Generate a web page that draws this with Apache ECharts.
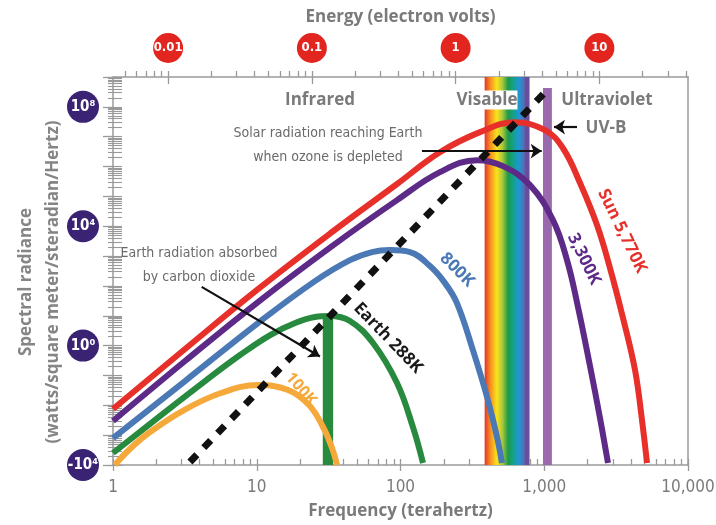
<!DOCTYPE html>
<html>
<head>
<meta charset="utf-8">
<script src="https://cdn.jsdelivr.net/npm/echarts@6/dist/echarts.min.js"></script>
<style>
  html, body { margin: 0; padding: 0; background: #fff; }
  #chart { width: 716px; height: 525px; }
</style>
</head>
<body>
<div id="chart"></div>
<script>
// frequency in terahertz, spectral radiance
var sunFreq = [1, 3.17, 10.2, 33.4, 94.6, 188, 357, 626, 1012, 1350, 1774, 2328, 2867, 3530, 4280, 4786, 5186];
var sunVal = [7.5e-3, 0.77, 78, 6.4e3, 2.6e5, 3.0e6, 1.42e7, 3.07e7, 1.66e7, 4.1e6, 2.8e5, 1.09e4, 395, 8.4, 0.152, 3.2e-3, 1.17e-4];

var k3300Freq = [1, 3.17, 10.2, 33.4, 94.6, 188, 341, 516, 796, 1150, 1440, 1717, 2081, 2442, 2776];
var k3300Val = [2.98e-3, 0.304, 28.8, 2160, 7.5e4, 6.5e5, 1.64e6, 1.03e6, 2.38e5, 1.6e4, 733, 19.5, 0.207, 3.75e-3, 1.17e-4];

var k800Freq = [1, 3.17, 10.2, 25.4, 44.5, 63.4, 84.5, 116.4, 160.4, 204, 247, 319, 400, 469, 508];
var k800Val = [8.0e-4, 0.065, 5.7, 145, 733, 1360, 1585, 1360, 461, 124, 26.6, 0.71, 0.0189, 8.7e-4, 1.17e-4];

var earthFreq = [1, 2.12, 4.37, 7.65, 12.4, 18.5, 25.4, 32.3, 44.5, 64.4, 94.6, 122, 143.4];
var earthVal = [2.52e-4, 4.37e-3, 0.065, 0.483, 2.26, 5.7, 9.06, 9.77, 6.65, 1.22, 0.0557, 1.87e-3, 1.17e-4];

var k100Freq = [1.03, 1.31, 1.81, 3.12, 5.64, 10.2, 16.5, 23.1, 28.9, 33.4, 36.2];
var k100Val = [1e-4, 3.44e-4, 1.27e-3, 6.95e-3, 0.0258, 0.0477, 0.0325, 0.0102, 1.87e-3, 3.7e-4, 1e-4];

// peak line (dashed) end points
var wienFreq = [3.43, 1045];
var wienVal = [1.26e-4, 3.6e8];

// bands
var visibleBand = [385, 790];
var uvbBand = [980, 1130];
var uvbTop = 4.3e8;
var co2Band = [28.8, 34];
var co2Top = 9;

// arrows [x0, y0, x1, y1]
var ozoneArrow = [141, 3.3e6, 960, 3.3e6];
var uvbArrow = [1690, 2.1e7, 1169, 2.1e7];
var co2Arrow = [4.14, 93, 27.5, 0.43];

// axes
var THZ_PER_EV = 241.8;
var freqMin = 1, freqMax = 10000;
var radMin = 1e-4, radMax = 1e9;
var freqDecades = [1, 10, 100, 1000, 10000];
var freqLabels = ['1', '10', '100', '1,000', '10,000'];
var energyTicks = [0.01, 0.1, 1, 10];
var radianceLabelValues = [1e-4, 1, 1e4, 1e8];
var radianceLabelText = { '-4': '-10⁴', '0': '10⁰', '4': '10⁴', '8': '10⁸' };

function zip(xs, ys) {
  return xs.map(function (x, i) { return [x, ys[i]]; });
}

// 1..9 x 10^k values inside [lo, hi]
function logTicks(lo, hi) {
  var out = [];
  for (var e = Math.floor(Math.log10(lo)); e <= Math.ceil(Math.log10(hi)); e++) {
    for (var m = 1; m < 10; m++) {
      var v = m * Math.pow(10, e);
      if (v >= lo * 0.9999 && v <= hi * 1.0001) out.push(v);
    }
  }
  return out;
}
function decades(lo, hi) {
  var out = [];
  for (var e = Math.round(Math.log10(lo)); e <= Math.round(Math.log10(hi)); e++) out.push(Math.pow(10, e));
  return out;
}

var axisGray = '#9a9a9a';
var textGray = '#7a7a7a';
var narrow = '"Liberation Sans Narrow", "DejaVu Sans Condensed", sans-serif';
var heavy = '"Open Sans", "DejaVu Sans", sans-serif';
var eMin = freqMin / THZ_PER_EV, eMax = freqMax / THZ_PER_EV;

function curve(name, color, xs, ys) {
  return {
    name: name, type: 'line', z: 3, smooth: 0.4, symbol: 'none', silent: true,
    data: zip(xs, ys),
    lineStyle: { color: color, width: 6 }
  };
}

function arrow(a) {
  return [{ coord: [a[0], a[1]] }, { coord: [a[2], a[3]] }];
}

var myChart = echarts.init(document.getElementById('chart'), null, { renderer: 'canvas' });

var option = {
  animation: false,
  backgroundColor: '#fff',
  grid: { left: 113, right: 28, top: 77, bottom: 60, containLabel: false, outerBoundsMode: 'none' },
  xAxis: [
    {
      type: 'log', min: freqMin, max: freqMax, position: 'bottom',
      axisLine: { show: true, onZero: false, lineStyle: { color: axisGray, width: 1.5 } },
      axisTick: { show: true, inside: false, length: 6, customValues: freqDecades, lineStyle: { color: axisGray, width: 1.3 } },
      axisLabel: {
        customValues: freqDecades, margin: 14, color: textGray, fontSize: 17, fontFamily: narrow,
        formatter: function (v) { return freqLabels[Math.round(Math.log10(v))]; }
      },
      splitLine: { show: false },
      name: 'Frequency (terahertz)', nameLocation: 'middle', nameGap: 38,
      nameTextStyle: { color: textGray, fontSize: 17, fontWeight: 'bold', fontFamily: heavy }
    },
    {
      type: 'log', min: freqMin, max: freqMax, position: 'bottom',
      axisLine: { show: false, onZero: false },
      axisTick: { show: true, inside: true, length: 6, customValues: logTicks(freqMin, freqMax), lineStyle: { color: axisGray, width: 1.3 } },
      axisLabel: { show: false }, splitLine: { show: false }
    },
    {
      type: 'log', min: eMin, max: eMax, position: 'top',
      axisLine: { show: true, onZero: false, lineStyle: { color: axisGray, width: 1.5 } },
      axisTick: { show: true, inside: false, length: 6, customValues: logTicks(eMin, eMax), lineStyle: { color: axisGray, width: 1.3 } },
      axisLabel: {
        customValues: energyTicks, margin: 29, color: '#fff', fontSize: 13, fontWeight: 'bold', fontFamily: narrow,
        backgroundColor: '#e2261f', width: 30, height: 30, lineHeight: 30, borderRadius: 15,
        align: 'center', verticalAlign: 'middle',
        formatter: function (v) { return String(v); }
      },
      splitLine: { show: false },
      name: 'Energy (electron volts)', nameLocation: 'middle', nameGap: 51,
      nameTextStyle: { color: textGray, fontSize: 17, fontWeight: 'bold', fontFamily: heavy }
    },
    {
      type: 'log', min: eMin, max: eMax, position: 'top',
      axisLine: { show: false, onZero: false },
      axisTick: { show: true, inside: true, length: 7, customValues: energyTicks, lineStyle: { color: axisGray, width: 1.3 } },
      axisLabel: { show: false }, splitLine: { show: false }
    }
  ],
  yAxis: [
    {
      type: 'log', min: radMin, max: radMax, position: 'left',
      axisLine: { show: true, onZero: false, lineStyle: { color: axisGray, width: 1.5 } },
      axisTick: { show: true, inside: false, length: 10, customValues: decades(radMin, radMax), lineStyle: { color: axisGray, width: 1.3 } },
      axisLabel: {
        customValues: radianceLabelValues, margin: 30, color: '#fff', fontSize: 15, fontWeight: 'bold', fontFamily: narrow,
        backgroundColor: '#3a2373', width: 32, height: 32, lineHeight: 32, borderRadius: 16,
        align: 'center', verticalAlign: 'middle',
        formatter: function (v) { return radianceLabelText[Math.round(Math.log10(v))]; }
      },
      splitLine: { show: false }
    },
    {
      type: 'log', min: radMin, max: radMax, position: 'left',
      axisLine: { show: false, onZero: false },
      axisTick: { show: true, inside: true, length: 9, customValues: logTicks(radMin, radMax), lineStyle: { color: axisGray, width: 1.1 } },
      axisLabel: { show: false }, splitLine: { show: false }
    },
    {
      type: 'log', min: radMin, max: radMax, position: 'left',
      axisLine: { show: false, onZero: false },
      axisTick: { show: true, inside: false, length: 5, customValues: logTicks(radMin, radMax), lineStyle: { color: axisGray, width: 1.1 } },
      axisLabel: { show: false }, splitLine: { show: false }
    },
    {
      type: 'log', min: radMin, max: radMax, position: 'right',
      axisLine: { show: true, onZero: false, lineStyle: { color: axisGray, width: 1.5 } },
      axisTick: { show: false }, axisLabel: { show: false }, splitLine: { show: false }
    }
  ],
  series: [
    {
      name: 'bands', type: 'line', z: 1, data: [], silent: true,
      markArea: {
        silent: true, label: { show: false },
        data: [
          [{ xAxis: visibleBand[0], itemStyle: { color: {
              type: 'linear', x: 0, y: 0, x2: 1, y2: 0,
              colorStops: [
                { offset: 0, color: '#e5332a' },
                { offset: 0.12, color: '#f58a22' },
                { offset: 0.27, color: '#fbe21d' },
                { offset: 0.4, color: '#a6c83a' },
                { offset: 0.52, color: '#1d9a48' },
                { offset: 0.64, color: '#15a08c' },
                { offset: 0.76, color: '#1d98d4' },
                { offset: 0.87, color: '#4f71b6' },
                { offset: 0.92, color: '#6a4c9c' },
                { offset: 1, color: '#6a4c9c' }
              ] } } },
           { xAxis: visibleBand[1] }],
          [{ xAxis: uvbBand[0], yAxis: radMin, itemStyle: { color: '#9b69ad' } }, { xAxis: uvbBand[1], yAxis: uvbTop }],
          [{ xAxis: co2Band[0], yAxis: radMin, itemStyle: { color: '#278a3e' } }, { xAxis: co2Band[1], yAxis: co2Top }]
        ]
      }
    },
    curve('Sun 5,770K', '#e8302a', sunFreq, sunVal),
    curve('3,300K', '#5d2a88', k3300Freq, k3300Val),
    curve('800K', '#4a79b6', k800Freq, k800Val),
    curve('Earth 288K', '#278a3e', earthFreq, earthVal),
    curve('100K', '#f6a93b', k100Freq, k100Val),
    {
      name: 'peak', type: 'line', z: 4, symbol: 'none', silent: true,
      data: zip(wienFreq, wienVal),
      lineStyle: { color: '#111', width: 7, type: [10, 10] },
      markLine: {
        silent: true, symbol: ['none', 'arrow'], symbolSize: 11,
        label: { show: false },
        lineStyle: { color: '#111', width: 2.2, type: 'solid' },
        data: [arrow(ozoneArrow), arrow(uvbArrow), arrow(co2Arrow)]
      }
    }
  ],
  graphic: [
    { type: 'text', z: 100, x: 320, y: 100, style: { text: 'Infrared', font: 'bold 17px ' + heavy, fill: textGray, align: 'center', verticalAlign: 'middle', textAlign: 'center', textVerticalAlign: 'middle' } },
    { type: 'text', z: 100, x: 487, y: 100, style: { text: 'Visable', font: 'bold 17px ' + heavy, fill: textGray, backgroundColor: '#fff', padding: [1, 0], align: 'center', verticalAlign: 'middle', textAlign: 'center', textVerticalAlign: 'middle' } },
    { type: 'text', z: 100, x: 607, y: 100, style: { text: 'Ultraviolet', font: 'bold 17px ' + heavy, fill: textGray, align: 'center', verticalAlign: 'middle', textAlign: 'center', textVerticalAlign: 'middle' } },
    { type: 'text', z: 100, x: 606, y: 128, style: { text: 'UV-B', font: 'bold 17px ' + heavy, fill: textGray, align: 'center', verticalAlign: 'middle', textAlign: 'center', textVerticalAlign: 'middle' } },
    { type: 'text', z: 100, x: 328, y: 145, style: { text: 'Solar radiation reaching Earth\nwhen ozone is depleted', font: '14px ' + narrow, lineHeight: 24, fill: '#6a6a6a', align: 'center', verticalAlign: 'middle', textAlign: 'center', textVerticalAlign: 'middle' } },
    { type: 'text', z: 100, x: 199, y: 265, style: { text: 'Earth radiation absorbed\nby carbon dioxide', font: '14px ' + narrow, lineHeight: 24, fill: '#6a6a6a', align: 'center', verticalAlign: 'middle', textAlign: 'center', textVerticalAlign: 'middle' } },
    { type: 'text', z: 100, x: 40, y: 282, rotation: Math.PI / 2, style: { text: 'Spectral radiance\n(watts/square meter/steradian/Hertz)', font: 'bold 17px ' + heavy, lineHeight: 27, fill: '#858585', align: 'center', verticalAlign: 'middle', textAlign: 'center', textVerticalAlign: 'middle' } },
    { type: 'text', z: 100, x: 622, y: 231, rotation: -64 * Math.PI / 180, style: { text: 'Sun 5,770K', font: 'bold 17px ' + heavy, fill: '#e8302a', align: 'center', verticalAlign: 'middle', textAlign: 'center', textVerticalAlign: 'middle' } },
    { type: 'text', z: 100, x: 584, y: 259, rotation: -64 * Math.PI / 180, style: { text: '3,300K', font: 'bold 17px ' + heavy, fill: '#5d2a88', align: 'center', verticalAlign: 'middle', textAlign: 'center', textVerticalAlign: 'middle' } },
    { type: 'text', z: 100, x: 457, y: 270, rotation: -45 * Math.PI / 180, style: { text: '800K', font: 'bold 17px ' + heavy, fill: '#4a79b6', align: 'center', verticalAlign: 'middle', textAlign: 'center', textVerticalAlign: 'middle' } },
    { type: 'text', z: 100, x: 388, y: 338, rotation: -46 * Math.PI / 180, style: { text: 'Earth 288K', font: 'bold 17px ' + heavy, fill: '#1a1a1a', align: 'center', verticalAlign: 'middle', textAlign: 'center', textVerticalAlign: 'middle' } },
    { type: 'text', z: 100, x: 301, y: 389, rotation: -49 * Math.PI / 180, style: { text: '100K', font: 'bold 16px ' + heavy, fill: '#f6a93b', align: 'center', verticalAlign: 'middle', textAlign: 'center', textVerticalAlign: 'middle' } }
  ]
};

myChart.setOption(option);
</script>
</body>
</html>
